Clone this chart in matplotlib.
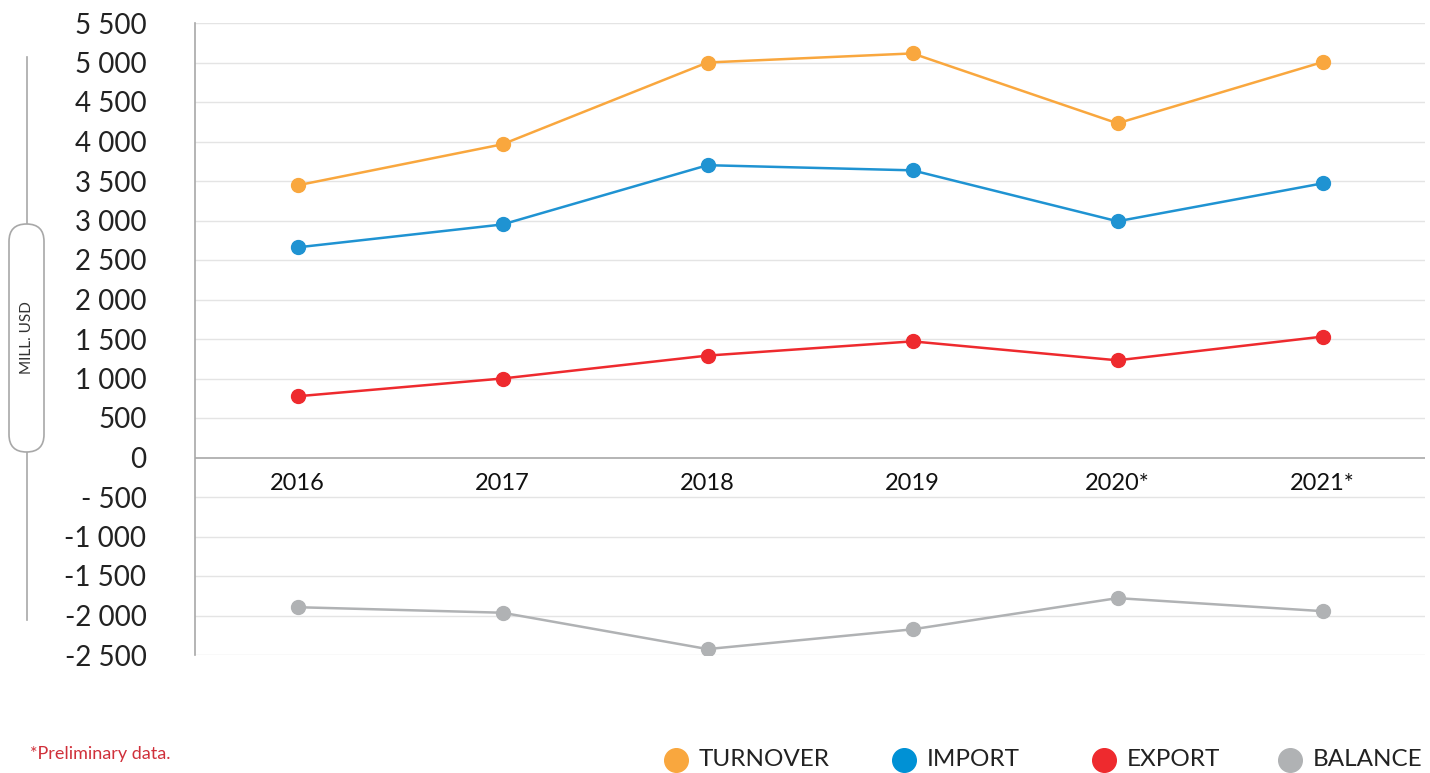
import numpy as np
from matplotlib import pyplot as plt
from matplotlib.patches import FancyBboxPatch
from matplotlib.lines import Line2D
from matplotlib.transforms import IdentityTransform

years = ['2016', '2017', '2018', '2019', '2020*', '2021*']
turnover = [3445, 3965, 5000, 5115, 4230, 5005]
imports = [2660, 2950, 3700, 3635, 2990, 3470]
exports = [775, 1000, 1290, 1470, 1230, 1530]
balance = [-1895, -1965, -2425, -2175, -1780, -1945]

yticks = list(range(-2500, 5501, 500))
ytick_labels = ['-2 500', '-2 000', '-1 500', '-1 000', '- 500', '0', '500',
                '1 000', '1 500', '2 000', '2 500', '3 000', '3 500', '4 000',
                '4 500', '5 000', '5 500']

names = ['TURNOVER', 'IMPORT', 'EXPORT', 'BALANCE']
colors = ['#f9a73e', '#1f93d2', '#ee2a2e', '#b0b2b4']
legend_colors = ['#f9a73e', '#0091d5', '#ee2a2e', '#b0b2b4']

plt.rcParams['font.family'] = ['Lato', 'DejaVu Sans']

fig = plt.figure(figsize=(14.3, 7.73), dpi=100)
ax = fig.add_axes([195 / 1430, 1 - 655 / 773, 1230 / 1430, 632 / 773])

x = np.arange(len(years)) + 0.5
for vals, c in zip([turnover, imports, exports, balance], colors):
    ax.plot(x, vals, color=c, lw=1.8, marker='o', ms=10, zorder=3)

ax.set_xlim(0, 6)
ax.set_ylim(-2500, 5500)
ax.set_yticks(yticks)
ax.set_yticklabels(ytick_labels, fontsize=20, color='#222222')
ax.set_xticks([])
ax.tick_params(axis='y', length=0, pad=35)

for v in yticks:
    if v != 0:
        ax.axhline(v, color='#e4e4e4', lw=1, zorder=1)
ax.axhline(0, color='#a8a8a8', lw=1.2, zorder=2)

for s in ['top', 'right', 'bottom']:
    ax.spines[s].set_visible(False)
ax.spines['left'].set_color('#a8a8a8')
ax.spines['left'].set_linewidth(1.2)

for xi, lab in zip(x, years):
    ax.text(xi, -330, lab, ha='center', va='center', fontsize=17, color='#111111')

# unit label with rounded box and vertical line (pixel coordinates)
fig.add_artist(Line2D([26.5, 26.5], [773 - 57, 773 - 620], transform=IdentityTransform(),
                      color='#a8a8a8', lw=1.2, zorder=1))
box = FancyBboxPatch((9, 773 - 452), 35, 228,
                     boxstyle='round,pad=0,rounding_size=17.5',
                     transform=IdentityTransform(), facecolor='white',
                     edgecolor='#a8a8a8', lw=1.2, zorder=2)
fig.add_artist(box)
fig.text(27 / 1430, 1 - 338 / 773, 'MILL. USD', rotation=90, ha='center', va='center',
         fontsize=11, color='#333333', zorder=3)

fig.text(30 / 1430, 1 - 754 / 773, '*Preliminary data.', fontsize=13,
         color='#d0303a', ha='left', va='center')

# legend
leg_x = [676, 904, 1104, 1290]
for lx, name, c in zip(leg_x, names, legend_colors):
    fig.add_artist(Line2D([lx / 1430], [1 - 760 / 773], marker='o', ms=17,
                          color=c, lw=0))
    fig.text((lx + 23) / 1430, 1 - 760 / 773, name, fontsize=17.5, color='#222222',
             ha='left', va='center')

fig.savefig('out.png', dpi=100)
